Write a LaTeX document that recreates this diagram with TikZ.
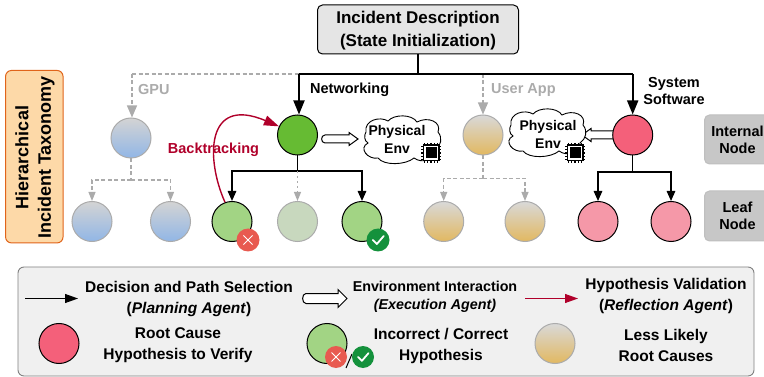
\documentclass[tikz,border=0pt]{standalone}
\usepackage{fontspec}
\setmainfont{Liberation Sans}
\usetikzlibrary{arrows.meta,calc}
\definecolor{grn}{HTML}{66BB33}
\definecolor{lgrn}{HTML}{A2D484}
\definecolor{rootred}{HTML}{F4607A}
\definecolor{lred}{HTML}{F598A8}
\definecolor{crim}{HTML}{B0002A}
\definecolor{gline}{HTML}{ABABAB}
\tikzset{x=1pt,y=-1pt,
 every node/.style={font=\bfseries,align=center,inner sep=0pt},
 circ/.style={circle,minimum size=40pt,draw=black,line width=1pt},
 bluefill/.style={circ,draw=gline,top color=black!17,bottom color={rgb,255:red,145;green,182;blue,230}},
 tanfill/.style={circ,draw=gline,top color=black!15,bottom color={rgb,255:red,226;green,184;blue,96}},
 solidarr/.style={draw=black,line width=1.5pt,-{Triangle[length=10pt,width=8.5pt]}},
 thickarr/.style={draw=black,line width=1.8pt,-{Triangle[length=14pt,width=11pt]}},
 solidline/.style={draw=black,line width=1.5pt},
 dashline/.style={draw=gline,line width=1.1pt,dash pattern=on 4pt off 2.5pt},
 dasharr/.style={dashline,-{Triangle[length=9pt,width=7pt]}},
 dasharrbig/.style={dashline,-{Triangle[length=12pt,width=10pt]}},
 sidebox/.style={rounded corners=5pt,draw=black!25,fill=black!22,line width=1pt},
 lbl/.style={font=\bfseries\fontsize{14.5}{17}\selectfont},
 leglbl/.style={font=\bfseries\fontsize{15.5}{21}\selectfont},
 cloudlbl/.style={font=\bfseries\fontsize{14}{18}\selectfont},
}
\newcommand{\chipicon}[2]{%
 \foreach \d in {-6.5,-3.25,0,3.25,6.5}{
  \draw[black,line width=1.2pt] (#1+\d,#2-10) -- (#1+\d,#2+10);
  \draw[black,line width=1.2pt] (#1-10,#2+\d) -- (#1+10,#2+\d);}
 \fill[black] (#1-8.5,#2-8.5) rectangle (#1+8.5,#2+8.5);
 \fill[white] (#1-7,#2-7) rectangle (#1+7,#2+7);
 \fill[black] (#1-5.5,#2-5.5) rectangle (#1+5.5,#2+5.5);
}
\newcommand{\cloudshape}[2]{%
 \draw[black,fill=white,line width=0.9pt,shift={(#1,#2)}]
  (-36,-8) .. controls (-38,-20) and (-22,-24) .. (-14,-19)
  .. controls (-8,-26) and (10,-26) .. (15,-18)
  .. controls (26,-24) and (40,-18) .. (36,-8)
  .. controls (41,-2) and (39,6) .. (33,10)
  .. controls (34,20) and (20,24) .. (12,18)
  .. controls (4,25) and (-18,26) .. (-24,18)
  .. controls (-34,20) and (-44,8) .. (-34,3)
  .. controls (-38,1) and (-38,-5) .. (-36,-8) -- cycle;}
\newcommand{\hollowarrow}[6]{%
 \draw[black,fill=white,line width=1pt,line join=miter]
  (#1,#3-#4) -- (#2-#6,#3-#4) -- (#2-#6,#3-#5) -- (#2,#3) -- (#2-#6,#3+#5) -- (#2-#6,#3+#4) -- (#1,#3+#4)
  .. controls ({#1-(#6)*0.5},#3+#4) and ({#1-(#6)*0.5},#3-#4) .. (#1,#3-#4) -- cycle;}
\newcommand{\xmark}[3]{%
 \fill[fill={rgb,255:red,232;green,90;blue,80}] (#1,#2) circle (#3);
 \draw[white,line width=1pt] (#1-0.4*#3,#2-0.4*#3) -- (#1+0.4*#3,#2+0.4*#3) (#1+0.4*#3,#2-0.4*#3) -- (#1-0.4*#3,#2+0.4*#3);}
\newcommand{\cmark}[3]{%
 \fill[fill={rgb,255:red,20;green,145;blue,60}] (#1,#2) circle (#3);
 \draw[white,line width=1.8pt,line cap=round,line join=round] (#1-0.45*#3,#2) -- (#1-0.1*#3,#2+0.35*#3) -- (#1+0.5*#3,#2-0.35*#3);}
\begin{document}
\begin{tikzpicture}
\useasboundingbox (0,0) rectangle (764,377);
% Top box
\node[rounded corners=5pt,draw=black,fill=black!10,line width=1pt,minimum width=201pt,minimum height=49pt] (top) at (418,29.5) {};
\node[font=\bfseries\fontsize{17}{23}\selectfont] (toplabel) at (418,31) {Incident Description\\(State Initialization)};
% side
\node[rounded corners=6pt,draw={rgb,255:red,224;green,100;blue,26},fill={rgb,255:red,253;green,217;blue,168},line width=1pt,minimum width=57.5pt,minimum height=172.5pt] (side) at (34.3,156.7) {};
\node[rotate=90,font=\bfseries\fontsize{18}{22.5}\selectfont] (sidelabel) at (35,157.5) {Hierarchical\\Incident Taxonomy};
\node[sidebox,minimum width=70pt,minimum height=49pt,anchor=west,lbl,text width=60pt] (intn) at (704,139.5) {\hspace*{-4pt}Internal\\\hspace*{-4pt}Node};
\node[sidebox,minimum width=70pt,minimum height=50pt,anchor=west,lbl,text width=60pt] (leafn) at (704,216) {\hspace*{-4pt}Leaf\\\hspace*{-4pt}Node};
% internal nodes
\node[bluefill] (gpu) at (131,138) {};
\node[circ,fill=grn] (net) at (297.5,135) {};
\node[tanfill] (usr) at (483,135) {};
\hollowarrow{615}{582}{135}{4}{6.5}{-9}
\node[circ,fill=rootred] (sys) at (632.7,135) {};
% leaves
\node[bluefill] (b1) at (92,221.5) {};
\node[bluefill] (b2) at (170.5,221.5) {};
\node[circ,fill=lgrn] (g1) at (232,221.5) {};
\node[circ,draw=gline,fill={rgb,255:red,200;green,216;blue,190}] (g2) at (297.5,221.5) {};
\node[circ,fill=lgrn] (g3) at (362,221.5) {};
\node[tanfill] (t1) at (443.7,221.5) {};
\node[tanfill] (t2) at (525,221.5) {};
\node[circ,fill=lred] (p1) at (598,221.5) {};
\node[circ,fill=lred] (p2) at (671,221.5) {};
% bus coordinates
\coordinate (busL) at (132,74);
\coordinate (busN) at (299,74);
\coordinate (busT) at (418,74);
\coordinate (busU) at (483,74);
\coordinate (busS) at (632.7,74);
\draw[dashline] (busL) -- (busN);
\draw[dasharrbig] (busL) -- (gpu.north -| busL);
\draw[dasharrbig] (busU) -- (usr.north);
\draw[solidline,line width=1.6pt] (top.south -| busT) -- (busT);
\draw[solidline,line width=1.8pt] (busN) -- (busS);
\draw[thickarr] (busN) -- (net.north -| busN);
\draw[thickarr] (busS) -- (sys.north);
% gpu subtree
\coordinate (gj) at (131,180);
\draw[dashline] (gpu.south) -- (gj);
\draw[dasharr] (gj) -| (b1.north);
\draw[dasharr] (gj) -| (b2.north);
\coordinate (uj) at (483,178.5);
\draw[dashline] (usr.south) -- (uj);
\draw[dasharr] (uj) -| (t1.north);
\draw[dasharr] (uj) -| (t2.north);
% net subtree
\coordinate (nj) at (297.5,171);
\draw[solidline] (net.south) -- (nj);
\draw[solidarr] (nj) -| (g1.north);
\draw[solidarr] (nj) -| (g3.north);
\draw[draw=gline,line width=1pt,dash pattern=on 2.5pt off 2.5pt,-{Triangle[length=9pt,width=7pt]}] (nj) -- (g2.north);
\coordinate (sj) at (632.7,172);
\draw[solidline] (sys.south) -- (sj);
\draw[solidarr] (sj) -| (p1.north);
\draw[solidarr] (sj) -| (p2.north);
% backtrack
\draw[crim,line width=1.4pt,-{Triangle[length=15pt,width=10pt]}] (g1.110) .. controls (206,160) and (205,95) .. (net.155);
\node[text=crim,lbl] (bt) at (213.5,150) {Backtracking};
% labels
\node[text=gline,lbl,anchor=west] (gpul) at (138,90) {GPU};
\node[lbl,anchor=west] (netl) at (310,90) {Networking};
\node[text=gline,lbl,anchor=west] (usrl) at (491,90) {User App};
\node[lbl] (sysl) at (674,91) {System\\Software};
% clouds
\cloudshape{402}{140}
\node[cloudlbl] (c1) at (397,139) {Physical\\Env};
\chipicon{431}{153}
\cloudshape{547}{133}
\node[cloudlbl] (c2) at (548,134) {Physical\\Env};
\chipicon{575}{153}
\hollowarrow{325}{358}{139}{4}{6.5}{9}
% badges
\xmark{248}{240}{11.5}
\cmark{378}{240}{11.5}
% legend
\node[rounded corners=6pt,draw=black!50,fill=black!6,line width=0.9pt,minimum width=736pt,minimum height=109pt] (leg) at (386,321.5) {};
\coordinate (a1) at (25,298.5);
\coordinate (a2) at (78,298.5);
\draw[black,line width=1pt,-{Triangle[length=13pt,width=9pt]}] (a1) -- (a2);
\node[leglbl] (l1) at (189,299) {Decision and Path Selection\\(\textit{Planning Agent})};
\hollowarrow{306}{347}{298.5}{5}{9}{9}
\node[font=\bfseries\fontsize{14.3}{18}\selectfont] (l2) at (435,296.5) {Environment Interaction\\\textit{(Execution Agent)}};
\coordinate (r1) at (525,298.5);
\coordinate (r2) at (578,298.5);
\draw[crim,line width=1pt,-{Triangle[length=13pt,width=9pt]}] (r1) -- (r2);
\node[leglbl] (l3) at (666,295.5) {Hypothesis Validation\\(\textit{Reflection Agent})};
\node[circ,fill=rootred] (lc1) at (59,343.5) {};
\node[leglbl] (l4) at (178,345.5) {Root Cause\\Hypothesis to Verify};
\node[circ,fill=lgrn] (lc2) at (327,343.5) {};
\xmark{336}{357}{11}
\draw[black,line width=1pt] (346,368) -- (352,354);
\cmark{363}{357}{11}
\node[leglbl] (l5) at (441,345.5) {Incorrect / Correct\\Hypothesis};
\node[tanfill] (lc3) at (555,343.5) {};
\node[leglbl] (l6) at (666,345) {Less Likely\\Root Causes};
\end{tikzpicture}
\end{document}
